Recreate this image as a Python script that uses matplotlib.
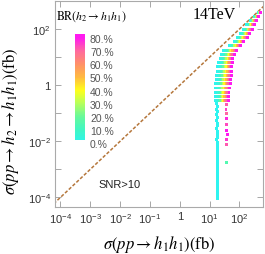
import matplotlib
matplotlib.use("Agg")
import matplotlib.pyplot as plt
import numpy as np
from matplotlib.colors import LinearSegmentedColormap

plt.rcParams['mathtext.fontset'] = 'custom'
plt.rcParams['mathtext.rm'] = 'Liberation Sans'
plt.rcParams['mathtext.it'] = 'Liberation Sans:italic'
plt.rcParams['font.family'] = ['Liberation Sans', 'DejaVu Sans']

# filas de la banda superior: log10 sigma(pp -> h2 -> h1h1)
rows_logy = [2.60, 2.45, 2.30, 2.15, 2.00, 1.85, 1.70, 1.55, 1.40, 1.25, 1.10,
             0.95, 0.80, 0.65, 0.50, 0.35, 0.20, 0.05, -0.10, -0.25, -0.40, -0.55]

# log10 sigma(pp -> h1h1) para cada valor de BR (%)
br_levels = [0, 4, 10, 20, 30, 40, 50, 60, 70, 80]
br00 = [2.63, 2.50, 2.37, 2.25, 2.14, 2.03, 1.93, 1.82, 1.66, 1.47, 1.40, 1.35, 1.31, 1.28, 1.26, 1.24, 1.22, 1.20, 1.20, 1.20, 1.21, 1.21]
br04 = [2.64, 2.52, 2.40, 2.29, 2.18, 2.08, 1.98, 1.87, 1.72, 1.53, 1.46, 1.41, 1.38, 1.35, 1.33, 1.31, 1.29, 1.27, 1.27, 1.27, 1.27, 1.27]
br10 = [2.66, 2.54, 2.43, 2.33, 2.23, 2.13, 2.03, 1.92, 1.77, 1.60, 1.53, 1.48, 1.45, 1.42, 1.40, 1.38, 1.37, 1.35, 1.34, 1.34, 1.34, 1.33]
br20 = [2.67, 2.56, 2.45, 2.36, 2.26, 2.16, 2.07, 1.96, 1.82, 1.65, 1.58, 1.53, 1.50, 1.48, 1.46, 1.44, 1.43, 1.41, 1.40, 1.39, 1.39, 1.38]
br30 = [2.68, 2.57, 2.47, 2.38, 2.29, 2.20, 2.10, 1.99, 1.85, 1.69, 1.62, 1.57, 1.54, 1.52, 1.51, 1.49, 1.47, 1.45, 1.44, 1.43, 1.43, 1.42]
br40 = [2.69, 2.59, 2.49, 2.41, 2.32, 2.23, 2.13, 2.02, 1.89, 1.74, 1.66, 1.62, 1.59, 1.57, 1.56, 1.54, 1.52, 1.50, 1.49, 1.48, 1.47, 1.46]
br50 = [2.69, 2.60, 2.51, 2.43, 2.35, 2.26, 2.17, 2.06, 1.93, 1.78, 1.70, 1.66, 1.63, 1.62, 1.61, 1.59, 1.57, 1.55, 1.54, 1.52, 1.51, 1.50]
br60 = [2.70, 2.61, 2.53, 2.45, 2.37, 2.29, 2.20, 2.09, 1.96, 1.82, 1.74, 1.70, 1.67, 1.66, 1.65, 1.63, 1.62, 1.60, 1.58, 1.56, 1.55, 1.54]
br70 = [2.71, 2.63, 2.55, 2.48, 2.40, 2.32, 2.23, 2.12, 1.99, 1.86, 1.78, 1.74, 1.72, 1.70, 1.69, 1.67, 1.66, 1.64, 1.62, 1.61, 1.59, 1.58]
br80 = [2.72, 2.64, 2.57, 2.50, 2.43, 2.35, 2.26, 2.15, 2.03, 1.90, 1.82, 1.78, 1.76, 1.75, 1.74, 1.72, 1.71, 1.69, 1.67, 1.65, 1.63, 1.62]
bands = [br00, br04, br10, br20, br30, br40, br50, br60, br70, br80]

# cola cyan (BR ~ 0)
tail_logy = [-0.65, -0.75, -0.85, -0.95, -1.05, -1.15, -1.25, -1.35, -1.45, -1.55, -1.65, -1.75,
             -1.85, -1.95, -2.05, -2.15, -2.25, -2.35, -2.45, -2.55, -2.65, -2.75, -2.85, -2.95,
             -3.05, -3.15, -3.25, -3.35, -3.45, -3.55, -3.65, -3.75, -3.85, -3.95, -4.03]
tail_logx = [1.22, 1.26, 1.23, 1.27, 1.24, 1.26, 1.23, 1.27, 1.25, 1.24, 1.27, 1.25,
             1.26, 1.24, 1.27, 1.25, 1.26, 1.25, 1.27, 1.25, 1.26, 1.26, 1.27, 1.25,
             1.26, 1.27, 1.26, 1.25, 1.27, 1.26, 1.27, 1.26, 1.27, 1.26, 1.27]

# puntos sueltos a la derecha
pink_logx = [1.57, 1.55, 1.58, 1.56, 1.58, 1.57, 1.59, 1.57, 1.58, 1.57]
pink_logy = [-0.70, -0.85, -1.00, -1.20, -1.40, -1.60, -1.75, -1.95, -2.10, -2.75]
pink_br = [72, 75, 70, 78, 74, 80, 80, 76, 72, 15]

diag = [1e-6, 1e5]
cbar_ticks = [0, 10, 20, 30, 40, 50, 60, 70, 80]

cmap = LinearSegmentedColormap.from_list('br', [
    (0.000, '#2ef4f0'), (0.125, '#40f7c4'), (0.250, '#66f99c'), (0.375, '#b4ff5e'),
    (0.500, '#ffff1c'), (0.625, '#ffbb40'), (0.750, '#ff9168'), (0.875, '#ff6a9e'),
    (1.000, '#ff1af0')])

fig = plt.figure(figsize=(2.65, 2.55), dpi=100)
ax = fig.add_axes([55/265, 1-208/255, 208/265, 206/255])

x_all, y_all, c_all = [], [], []
for br, lx in zip(br_levels, bands):
    x_all += lx
    y_all += rows_logy
    c_all += [br] * len(lx)
x_all += tail_logx + pink_logx
y_all += tail_logy + pink_logy
c_all += [0] * len(tail_logx) + pink_br

ax.plot(diag, diag, color='#b5773c', lw=1.1, dashes=(2.2, 1.2), zorder=1)
ax.scatter(10**np.array(x_all), 10**np.array(y_all), c=c_all, cmap=cmap, vmin=0, vmax=80,
           marker='s', s=4.5, linewidths=0, zorder=2)

ax.set_xscale('log')
ax.set_yscale('log')
ax.set_xlim(10**-4.18, 10**2.79)
ax.set_ylim(10**-4.34, 10**3.0)

xt = [1e-4, 1e-3, 1e-2, 1e-1, 1, 10, 100]
xl = [r'$10^{-4}$', r'$10^{-3}$', r'$10^{-2}$', r'$10^{-1}$', '1', r'$10^{1}$', r'$10^{2}$']
ax.set_xticks(xt)
ax.set_xticklabels(xl)
yt = [1e-4, 1e-3, 1e-2, 1e-1, 1, 10, 100]
yl = [r'$10^{-4}$', '', r'$10^{-2}$', '', '1', '', r'$10^{2}$']
ax.set_yticks(yt)
ax.set_yticklabels(yl)
ax.minorticks_off()
ax.tick_params(which='both', direction='in', length=4, width=0.6, color='#999999',
               labelsize=8, labelcolor='#333333', top=True, right=True, pad=3)
for s in ax.spines.values():
    s.set_color('#aaaaaa')
    s.set_linewidth(0.8)

ax.set_xlabel(r'$\sigma(pp\rightarrow h_1h_1)(\mathrm{fb})$', fontsize=12, math_fontfamily='stix')
ax.xaxis.set_label_coords(0.5, -0.125)
ax.set_ylabel(r'$\sigma(pp\rightarrow h_2\rightarrow h_1h_1)(\mathrm{fb})$', fontsize=12,
              math_fontfamily='stix')
ax.yaxis.set_label_coords(-0.165, 0.42)

ax.text(0.005, 1 - 15/206, r'$\mathrm{BR}(h_2\rightarrow h_1h_1)$', transform=ax.transAxes,
        fontsize=8.5, math_fontfamily='stix', va='center', ha='left')
ax.text(0.765, 1 - 13/206, '14TeV', transform=ax.transAxes, fontsize=11.5,
        family='Liberation Serif', va='center', ha='center')
ax.text(0.31, 1 - 183/206, 'SNR>10', transform=ax.transAxes, fontsize=8,
        va='center', ha='center', color='#222222')

# barra de colores
cax = fig.add_axes([75/265, 1-141/255, 10/265, 106/255])
cax.imshow(np.arange(0, 86).reshape(-1, 1), origin='lower', extent=[0, 1, 0, 86],
           aspect='auto', cmap=cmap, vmin=0, vmax=80)
cax.set_ylim(3, 84)
cax.set_xlim(0, 1)
cax.axis('off')
for v in cbar_ticks:
    cax.text(1.5, v, f'{v}.%', fontsize=7.5, color='#555555', va='center', ha='left',
             clip_on=False)

fig.savefig('out.png', dpi=100)
